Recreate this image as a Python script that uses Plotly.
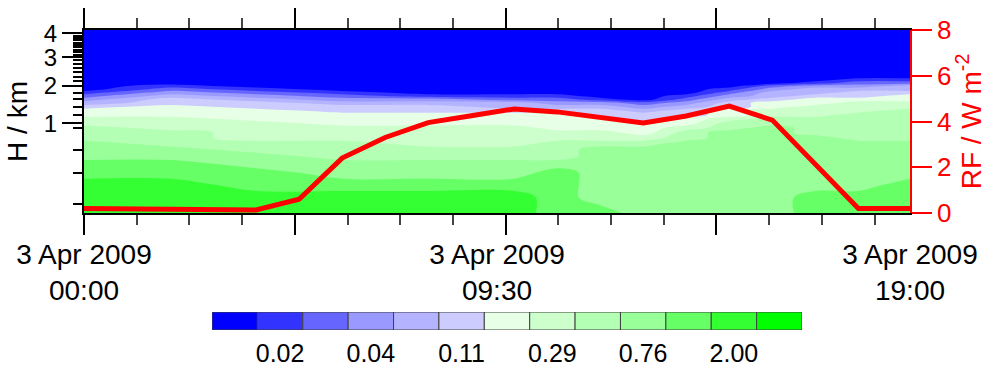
import numpy as np
import plotly.graph_objects as go

# ---------------- data ----------------
# contour grid: time (hours after 3 Apr 2009 00:00) and height (km)
times_h = [0, 2, 4, 6, 8, 10, 11, 12, 13, 14, 15, 16, 17, 18, 19.2]
heights_km = [0.0, 0.03, 0.1, 0.2, 0.3, 0.4, 0.5, 0.6, 0.7, 0.8, 0.9, 1.0, 1.1, 1.2,
              1.3, 1.4, 1.5, 1.6, 1.7, 1.8, 1.9, 2.0, 2.1, 2.2, 2.3, 2.5, 3.0, 4.2]

# representative value of each colour class (colour bar boxes, left to right)
class_values = [0.012, 0.02, 0.028, 0.04, 0.066, 0.11, 0.18, 0.29, 0.47, 0.76, 1.23, 2.0, 3.2]
labelled_classes = [1, 3, 5, 7, 9, 11]

# field values (rows = heights, columns = times)
field = [
    [2.0, 2.0, 2.0, 2.0, 2.0, 2.0, 1.23, 1.23, 0.76, 0.76, 0.76, 0.76, 1.23, 1.23, 1.23],
    [2.0, 2.0, 2.0, 2.0, 2.0, 2.0, 1.23, 0.76, 0.76, 0.76, 0.76, 0.76, 1.23, 1.23, 1.23],
    [2.0, 2.0, 1.23, 1.23, 1.23, 1.23, 1.23, 0.76, 0.76, 0.76, 0.76, 0.76, 0.76, 0.76, 1.23],
    [1.23, 1.23, 1.23, 0.76, 0.76, 0.76, 1.23, 0.76, 0.76, 0.76, 0.76, 0.76, 0.76, 0.76, 0.76],
    [1.23, 1.23, 0.76, 0.76, 0.76, 0.76, 0.76, 0.76, 0.76, 0.76, 0.76, 0.76, 0.76, 0.76, 0.76],
    [0.76, 0.76, 0.76, 0.47, 0.47, 0.47, 0.47, 0.76, 0.76, 0.76, 0.76, 0.76, 0.76, 0.76, 0.76],
    [0.76, 0.76, 0.47, 0.47, 0.47, 0.47, 0.47, 0.76, 0.76, 0.76, 0.76, 0.76, 0.76, 0.76, 0.76],
    [0.76, 0.47, 0.47, 0.47, 0.29, 0.29, 0.47, 0.47, 0.47, 0.76, 0.76, 0.76, 0.76, 0.76, 0.76],
    [0.47, 0.47, 0.29, 0.29, 0.29, 0.29, 0.29, 0.29, 0.29, 0.47, 0.76, 0.76, 0.76, 0.47, 0.47],
    [0.47, 0.47, 0.29, 0.29, 0.29, 0.29, 0.29, 0.29, 0.18, 0.47, 0.76, 0.76, 0.47, 0.47, 0.47],
    [0.47, 0.29, 0.29, 0.29, 0.29, 0.29, 0.18, 0.18, 0.18, 0.29, 0.47, 0.76, 0.47, 0.47, 0.47],
    [0.29, 0.29, 0.29, 0.18, 0.18, 0.18, 0.18, 0.18, 0.18, 0.18, 0.47, 0.47, 0.47, 0.47, 0.47],
    [0.29, 0.29, 0.18, 0.18, 0.18, 0.18, 0.18, 0.18, 0.11, 0.18, 0.29, 0.47, 0.47, 0.47, 0.47],
    [0.18, 0.18, 0.18, 0.18, 0.18, 0.18, 0.18, 0.11, 0.11, 0.11, 0.18, 0.29, 0.29, 0.47, 0.47],
    [0.18, 0.18, 0.18, 0.11, 0.11, 0.11, 0.11, 0.11, 0.066, 0.11, 0.18, 0.29, 0.29, 0.29, 0.47],
    [0.11, 0.18, 0.11, 0.11, 0.11, 0.066, 0.066, 0.066, 0.04, 0.066, 0.11, 0.18, 0.29, 0.29, 0.29],
    [0.066, 0.11, 0.11, 0.066, 0.066, 0.066, 0.04, 0.04, 0.028, 0.04, 0.11, 0.18, 0.18, 0.29, 0.29],
    [0.04, 0.11, 0.066, 0.04, 0.04, 0.028, 0.028, 0.02, 0.012, 0.028, 0.066, 0.11, 0.18, 0.18, 0.18],
    [0.028, 0.066, 0.04, 0.028, 0.02, 0.02, 0.02, 0.012, 0.01, 0.02, 0.04, 0.066, 0.11, 0.11, 0.18],
    [0.02, 0.04, 0.028, 0.02, 0.012, 0.012, 0.012, 0.01, 0.008, 0.012, 0.028, 0.066, 0.066, 0.11, 0.11],
    [0.012, 0.028, 0.02, 0.012, 0.01, 0.01, 0.01, 0.008, 0.007, 0.01, 0.02, 0.04, 0.066, 0.066, 0.066],
    [0.01, 0.02, 0.012, 0.01, 0.008, 0.008, 0.008, 0.007, 0.006, 0.008, 0.012, 0.028, 0.04, 0.04, 0.066],
    [0.008, 0.01, 0.009, 0.008, 0.007, 0.007, 0.007, 0.006, 0.005, 0.007, 0.009, 0.012, 0.02, 0.028, 0.028],
    [0.007, 0.008, 0.007, 0.007, 0.006, 0.006, 0.006, 0.005, 0.005, 0.006, 0.007, 0.009, 0.012, 0.02, 0.02],
    [0.006, 0.006, 0.006, 0.006, 0.005, 0.005, 0.005, 0.005, 0.004, 0.005, 0.006, 0.007, 0.009, 0.01, 0.01],
    [0.005, 0.005, 0.005, 0.005, 0.004, 0.004, 0.004, 0.004, 0.004, 0.004, 0.005, 0.006, 0.007, 0.008, 0.008],
    [0.004, 0.004, 0.004, 0.004, 0.004, 0.003, 0.003, 0.003, 0.003, 0.003, 0.004, 0.004, 0.005, 0.005, 0.005],
    [0.003, 0.003, 0.003, 0.003, 0.003, 0.003, 0.003, 0.003, 0.003, 0.003, 0.003, 0.003, 0.003, 0.003, 0.003],
]

# radiative forcing line
rf_time_h = [0, 1, 2, 3, 4, 5, 6, 7, 8, 9, 10, 11, 12, 13, 14, 15, 16, 17, 18, 19.2]
rf_values = [0.2, 0.18, 0.16, 0.14, 0.13, 0.6, 2.4, 3.3, 3.95, 4.25, 4.55, 4.42, 4.18,
             3.94, 4.24, 4.67, 4.06, 2.1, 0.2, 0.2]

# axis labels
time_label_pos = [0, 9.6, 19.2]
time_labels = ["3 Apr 2009<br>00:00", "3 Apr 2009<br>09:30", "3 Apr 2009<br>19:00"]
height_ticks = [1, 2, 3, 4]
height_minor = [0.01, 0.2, 0.5, 0.9, 1.2, 1.4, 1.6, 1.8, 2.15, 2.3, 2.45, 2.6, 2.75, 2.9,
                3.1, 3.2, 3.3, 3.4, 3.5, 3.6, 3.7, 3.8, 3.9]
rf_ticks = [0, 2, 4, 6, 8]

# ---------------- styles ----------------
class_colors = ["#0000FF", "#3333FF", "#6666FF", "#9999FF", "#B3B3FF", "#CCCCFF",
                "#E6FFE6", "#CCFFCC", "#B3FFB3", "#99FF99", "#66FF66", "#33FF33", "#00FF00"]
FONT = "Liberation Sans, Arial, sans-serif"
major_step_h = 4.9
minor_step_h = major_step_h / 4
major_ticks = [i * major_step_h for i in range(4)]
minor_ticks = [i * minor_step_h for i in range(16) if i % 4]

# ---------------- build ----------------
nclass = len(class_values)
z = np.array(field)
zidx = np.interp(np.log10(z), np.log10(class_values), np.arange(nclass))

cscale = []
for k, c in enumerate(class_colors):
    lo = max(0.0, (k - 0.5) / (nclass - 1))
    hi = min(1.0, (k + 0.5) / (nclass - 1))
    cscale += [[lo, c], [hi, c]]

fig = go.Figure()
fig.add_trace(go.Contour(
    x=times_h, y=np.sqrt(heights_km), z=zidx,
    contours=dict(start=0.5, end=nclass - 1.5, size=1, coloring="fill", showlines=False),
    colorscale=cscale, showscale=False, line=dict(width=0), hoverinfo="skip",
    xaxis="x", yaxis="y"))

fig.add_trace(go.Scatter(
    x=rf_time_h, y=rf_values, mode="lines", line=dict(color="#FF0000", width=5),
    xaxis="x2", yaxis="y2", showlegend=False))

fig.add_trace(go.Bar(
    x=list(range(nclass)), y=[1] * nclass, width=1,
    marker=dict(color=class_colors, line=dict(color="#404040", width=1)),
    xaxis="x3", yaxis="y3", showlegend=False, hoverinfo="skip"))

H, W = 372, 1000
mt, mb = 30, 10
ph = H - mt - mb
def dom(y_top_px, y_bot_px):
    return [(H - mb - y_bot_px) / ph, (H - mb - y_top_px) / ph]

xr = [0, 19.2]
fig.update_layout(
    width=W, height=H, autosize=False, margin=dict(l=84, r=90, t=mt, b=mb),
    paper_bgcolor="white", plot_bgcolor="white", showlegend=False,
    font=dict(family=FONT, color="black"),
    xaxis=dict(domain=[0, 1], range=xr, anchor="y", showline=True, linecolor="black",
               linewidth=2, mirror="ticks", tickmode="array", tickvals=major_ticks,
               ticks="outside", ticklen=20, tickwidth=1.5, tickcolor="black",
               showticklabels=False, showgrid=False, zeroline=False, automargin=False,
               minor=dict(tickmode="array", tickvals=minor_ticks, ticks="outside",
                          ticklen=10, tickwidth=1.5, tickcolor="#444", showgrid=False)),
    xaxis2=dict(overlaying="x", side="bottom", anchor="y", range=xr, tickmode="array",
                tickvals=time_label_pos, ticktext=time_labels, ticks="",
                showline=False, showgrid=False, zeroline=False, automargin=False,
                tickfont=dict(size=28, family=FONT, color="black"), ticklabelstandoff=22),
    yaxis=dict(domain=dom(30, 213), range=[0, 2.038], anchor="x", tickmode="array",
               tickvals=list(np.sqrt(height_ticks)), ticktext=[str(h) for h in height_ticks],
               ticks="outside", ticklen=20, tickwidth=1.5, tickcolor="black",
               minor=dict(tickmode="array", tickvals=list(np.sqrt(height_minor)),
                          ticks="outside", ticklen=9, tickwidth=1.5, tickcolor="black",
                          showgrid=False),
               showline=True, linecolor="black", linewidth=2, mirror=True,
               showgrid=False, zeroline=False, automargin=False,
               tickfont=dict(size=24, family=FONT, color="black"),
               title=dict(text="H / km", font=dict(size=28, family=FONT, color="black"),
                          standoff=8)),
    yaxis2=dict(overlaying="y", side="right", anchor="x2", range=[0, 8],
                tickmode="array", tickvals=rf_ticks, ticks="outside", ticklen=20,
                tickwidth=1.5, tickcolor="#FF0000", showline=True, linecolor="#FF0000",
                linewidth=1.5, showgrid=False, zeroline=False, automargin=False,
                tickfont=dict(size=26, family=FONT, color="#FF0000"),
                title=dict(text="RF / W m<sup>-2</sup>",
                           font=dict(size=28, family=FONT, color="#FF0000"), standoff=8)),
    xaxis3=dict(domain=[(212 - 84) / 826, (802 - 84) / 826], anchor="y3",
                range=[-0.5, nclass - 0.5], tickmode="array", tickvals=labelled_classes,
                ticktext=["%.2f" % class_values[i] for i in labelled_classes],
                ticks="", showline=False, showgrid=False, zeroline=False, automargin=False,
                tickfont=dict(size=25, family=FONT, color="black"), ticklabelstandoff=6),
    yaxis3=dict(domain=dom(312, 330), anchor="x3", range=[0, 1], visible=False,
                automargin=False),
)

fig.write_html("out.html",
               config={"responsive": False, "displayModeBar": False},
               post_script="document.body.style.margin='0';"
                           "document.documentElement.style.overflow='hidden';")
